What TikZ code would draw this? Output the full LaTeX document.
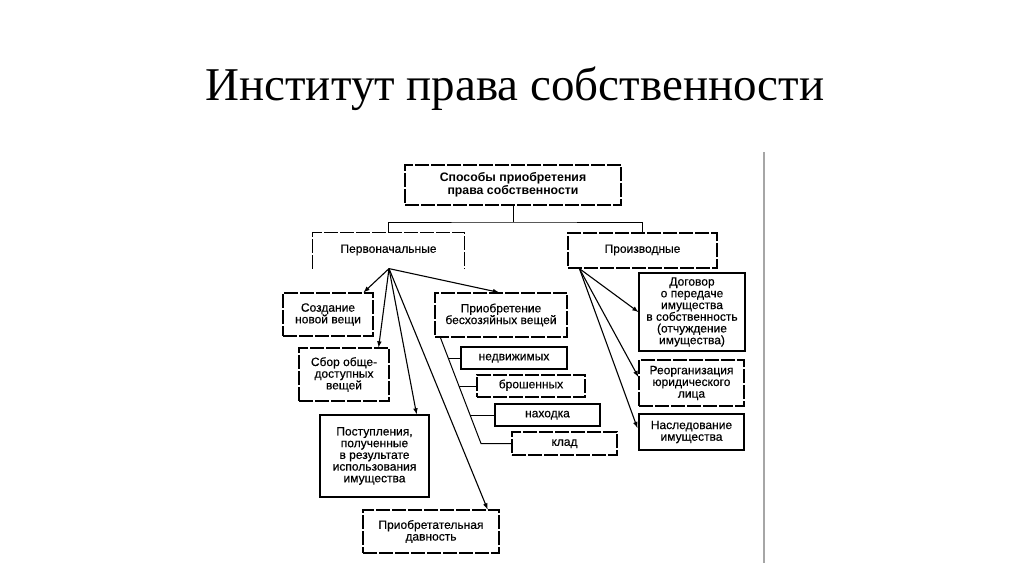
\documentclass[tikz,border=0pt]{standalone}
\usepackage{fontspec}
\setmainfont{Liberation Serif}
\setsansfont{Liberation Sans}
\newfontfamily\boxfont{Liberation Sans}[FakeBold=0.4]
\usepackage{tikz}
\usetikzlibrary{shapes,arrows}
\usetikzlibrary{calc}

\tikzset{
  box/.style={draw,line width=1.2pt,inner sep=0pt,align=center,
    font=\boxfont\fontsize{12}{11.7}\selectfont},
  dbox/.style={box,dash pattern=on 14pt off 2pt},
  oneline/.style={text height=1ex,text depth=0pt},
  link/.style={line width=1pt},
  arr/.style={line width=1.1pt,->,>=latex}
}

\begin{document}
\begin{tikzpicture}[x=1pt,y=-1pt]
		\fill[white] (0,0) rectangle (1024,574);
		\useasboundingbox (0,0) rectangle (1024,574);
		\node[anchor=base,font=\fontsize{47}{56}\selectfont] (title) at (515,100) {Институт права собственности};
		\draw[black!35,line width=1.6pt] (764,152) -- (764,563);

		\node[dbox,minimum width=216,minimum height=40,font=\sffamily\bfseries\fontsize{12.3}{13.5}\selectfont] (sposob) at (513,185) {Способы приобретения\\права собственности};
		\node[box,oneline,draw=none,minimum width=151,minimum height=35] (perv) at (388.5,250.5) {Первоначальные};
		\draw[line width=1.2pt,dash pattern=on 14pt off 2pt] (perv.south west) -- (perv.north west) -- (perv.north east) -- (perv.south east);
		\node[dbox,oneline,minimum width=149,minimum height=35] (proizv) at (642.5,250.5) {Производные};

		\coordinate (j) at (513,222);
		\draw[link] (sposob.south) -- (j);
		\draw[link] (perv.north) |- (j) -| (proizv.north);

		% первоначальные
		\node[dbox,minimum width=90,minimum height=43] (sozd) at (328,314.5) {Создание\\новой вещи};
		\node[dbox,minimum width=90,minimum height=53] (sbor) at (344,374.5) {Сбор обще-\\доступных\\вещей};
		\node[box,minimum width=109,minimum height=82] (post) at (374.5,456) {Поступления,\\полученные\\в результате\\использования\\имущества};
		\node[dbox,minimum width=136,minimum height=43] (davn) at (431,531.5) {Приобретательная\\давность};
		\node[dbox,minimum width=132,minimum height=44] (bes) at (501,315) {Приобретение\\бесхозяйных вещей};

		\coordinate (pv) at ($(perv.south)+(0.5,0)$);
		\draw[arr] (pv) -- ($(sozd.north east)+(-10,0)$);
		\draw[arr] (pv) -- ($(sbor.north east)+(-11,0)$);
		\draw[arr] (pv) -- ($(post.north east)+(-13,0)$);
		\draw[arr] (pv) -- ($(davn.north east)+(-12,0)$);
		\draw[arr] (pv) -- ($(bes.north)+(-2,0)$);

		\node[box,oneline,minimum width=106,minimum height=22] (nedv) at (514,358) {недвижимых};
		\node[dbox,oneline,minimum width=108,minimum height=22] (brosh) at (531,386) {брошенных};
		\node[box,oneline,minimum width=105,minimum height=22] (nakh) at (547.5,415) {находка};
		\node[dbox,oneline,minimum width=105,minimum height=23] (klad) at (564.5,443.5) {клад};

		\coordinate (b1) at ($(bes.south west)+(6,0)$);
		\coordinate (b2) at (481,443.5);
		\draw[link] (b1) -- (b2) -- (klad.west);
		\foreach \n/\d in {nedv/12,brosh/17.5,nakh/24.6}
		  \draw[link] (\n.west) -- ++(-\d,0);

		% производные
		\node[box,minimum width=106,minimum height=78] (dog) at (692,312) {Договор\\о передаче\\имущества\\в собственность\\(отчуждение\\имущества)};
		\node[dbox,minimum width=105,minimum height=46] (reorg) at (691.5,383) {Реорганизация\\юридического\\лица};
		\node[box,minimum width=105,minimum height=36] (nasl) at (691.5,432) {Наследование\\имущества};

		\coordinate (pd) at ($(proizv.south west)+(12,0)$);
		\draw[arr] (pd) -- (dog.west);
		\draw[arr] (pd) -- ($(reorg.west)+(0,-6)$);
		\draw[arr] (pd) -- ($(nasl.west)+(-1,-4)$);
\end{tikzpicture}
\end{document}
